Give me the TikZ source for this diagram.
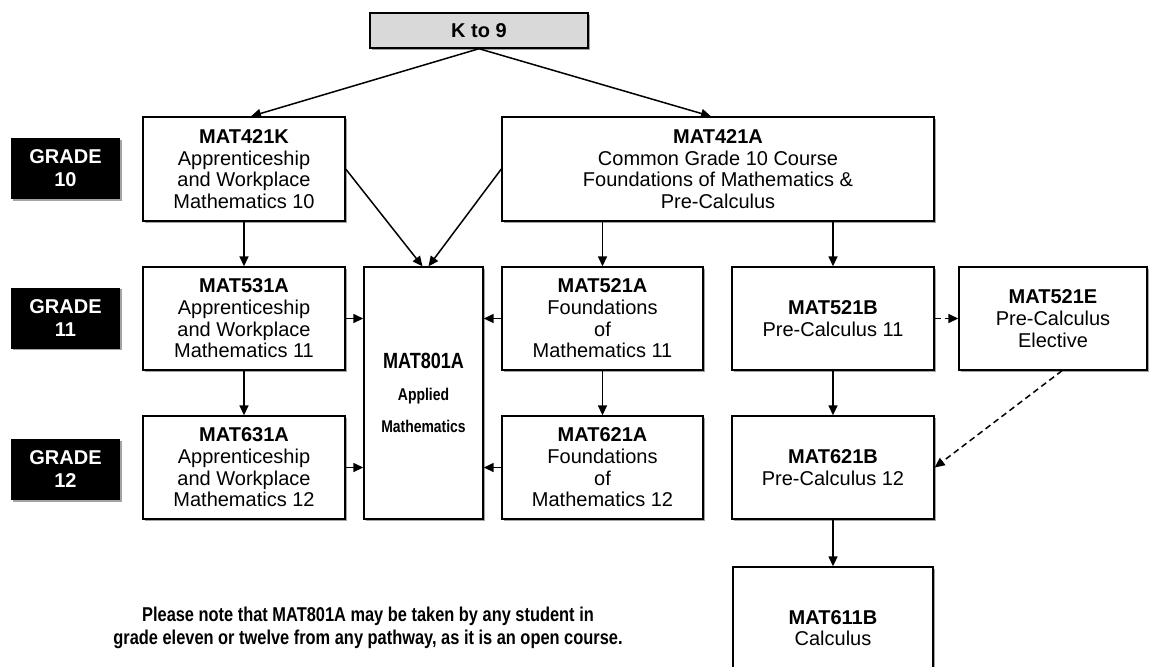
\documentclass[tikz,border=0pt]{standalone}
\usepackage{fontspec}
\setmainfont{Liberation Sans}
\newfontfamily\narrowfont[FakeStretch=0.82]{Liberation Sans}
\usetikzlibrary{arrows.meta,shadows,calc}
\begin{document}
\begin{tikzpicture}[x=0.5pt,y=-0.5pt,
  box/.style={draw=black, line width=0.7pt, fill=white, align=center, inner sep=0pt,
    font=\fontsize{10}{10.85}\selectfont,
    drop shadow={shadow xshift=0.8pt,shadow yshift=-0.8pt,fill=black!60,opacity=0.6}},
  grade/.style={fill=black, text=white, align=center, inner sep=0pt,
    font=\bfseries\fontsize{10}{11.5}\selectfont,
    minimum width=54.5pt, minimum height=30.5pt,
    drop shadow={shadow xshift=0.8pt,shadow yshift=-0.8pt,fill=black!60,opacity=0.6}},
  arr/.style={line width=0.75pt, -{Triangle[length=5pt,width=4.5pt]}},
  darr/.style={arr, dash pattern=on 3pt off 2pt},
]
\useasboundingbox (0,0) rectangle (1150,666);
\clip (0,0) rectangle (1150,666);

\node[box, fill=black!15, minimum width=109pt, minimum height=17.5pt,
  font=\bfseries\fontsize{10}{12}\selectfont] (k9) at (479,30.5) {K to 9};

\node[grade] (g10) at (65.5,168.5) {GRADE\\10};
\node[grade] (g11) at (65.5,318) {GRADE\\11};
\node[grade] (g12) at (65.5,469.5) {GRADE\\12};

\node[box, minimum width=101pt, minimum height=52pt] (m421k) at (244,169)
  {\textbf{MAT421K}\\Apprenticeship\\and Workplace\\Mathematics 10};
\node[box, minimum width=216pt, minimum height=52pt] (m421a) at (718,169)
  {\textbf{MAT421A}\\Common Grade 10 Course\\Foundations of Mathematics \&\\Pre-Calculus};

\node[box, minimum width=101pt, minimum height=51.5pt] (m531a) at (244,318.5)
  {\textbf{MAT531A}\\Apprenticeship\\and Workplace\\Mathematics 11};
\node[box, minimum width=59.5pt, minimum height=126pt,
  font=\narrowfont\bfseries\fontsize{8.5}{16}\selectfont] (m801a) at (423.5,393)
  {{\fontsize{11}{16}\selectfont MAT801A}\\Applied\\Mathematics};
\node[box, minimum width=100.5pt, minimum height=51.5pt] (m521a) at (602.5,318.5)
  {\textbf{MAT521A}\\Foundations\\of\\Mathematics 11};
\node[box, minimum width=101pt, minimum height=51.5pt] (m521b) at (833,318.5)
  {\textbf{MAT521B}\\Pre-Calculus 11};
\node[box, minimum width=94pt, minimum height=51.5pt] (m521e) at (1053,318.5)
  {\textbf{MAT521E}\\Pre-Calculus\\Elective};

\node[box, minimum width=101pt, minimum height=51.5pt] (m631a) at (244,467.5)
  {\textbf{MAT631A}\\Apprenticeship\\and Workplace\\Mathematics 12};
\node[box, minimum width=100.5pt, minimum height=51.5pt] (m621a) at (602.5,467.5)
  {\textbf{MAT621A}\\Foundations\\of\\Mathematics 12};
\node[box, minimum width=101pt, minimum height=51.5pt] (m621b) at (833,467.5)
  {\textbf{MAT621B}\\Pre-Calculus 12};
\node[box, minimum width=100pt, minimum height=61pt] (m611b) at (833,628)
  {\textbf{MAT611B}\\Calculus};

\node[align=center, inner sep=0pt, font=\narrowfont\bfseries\fontsize{10}{11.5}\selectfont] (note) at (368,628)
  {Please note that MAT801A may be taken by any student in\\grade eleven or twelve from any pathway, as it is an open course.};

\draw[arr] (k9.south) -- ([xshift=3.5pt]m421k.north);
\draw[arr] (k9.south) -- ([xshift=-3.5pt]m421a.north);
\draw[arr] (m421k.east) -- ([xshift=-0.5pt]m801a.north);
\draw[arr] (m421a.west) -- ([xshift=2.5pt]m801a.north);
\draw[arr] (m421k.south) -- (m531a.north);
\draw[arr] (m421a.south -| m521a.north) -- (m521a.north);
\draw[arr] (m421a.south -| m521b.north) -- (m521b.north);
\draw[arr] (m531a.south) -- (m631a.north);
\draw[arr] (m521a.south) -- (m621a.north);
\draw[arr] (m521b.south) -- (m621b.north);
\draw[arr] (m621b.south) -- (m611b.north);
\draw[arr] (m531a.east) -- (m531a.east -| m801a.west);
\draw[arr] (m631a.east) -- (m631a.east -| m801a.west);
\draw[arr] (m521a.west) -- (m521a.west -| m801a.east);
\draw[arr] (m621a.west) -- (m621a.west -| m801a.east);
\draw[darr] (m521b.east) -- (m521e.west);
\draw[darr] ([xshift=4.5pt]m521e.south) -- (m621b.east);
\end{tikzpicture}
\end{document}
